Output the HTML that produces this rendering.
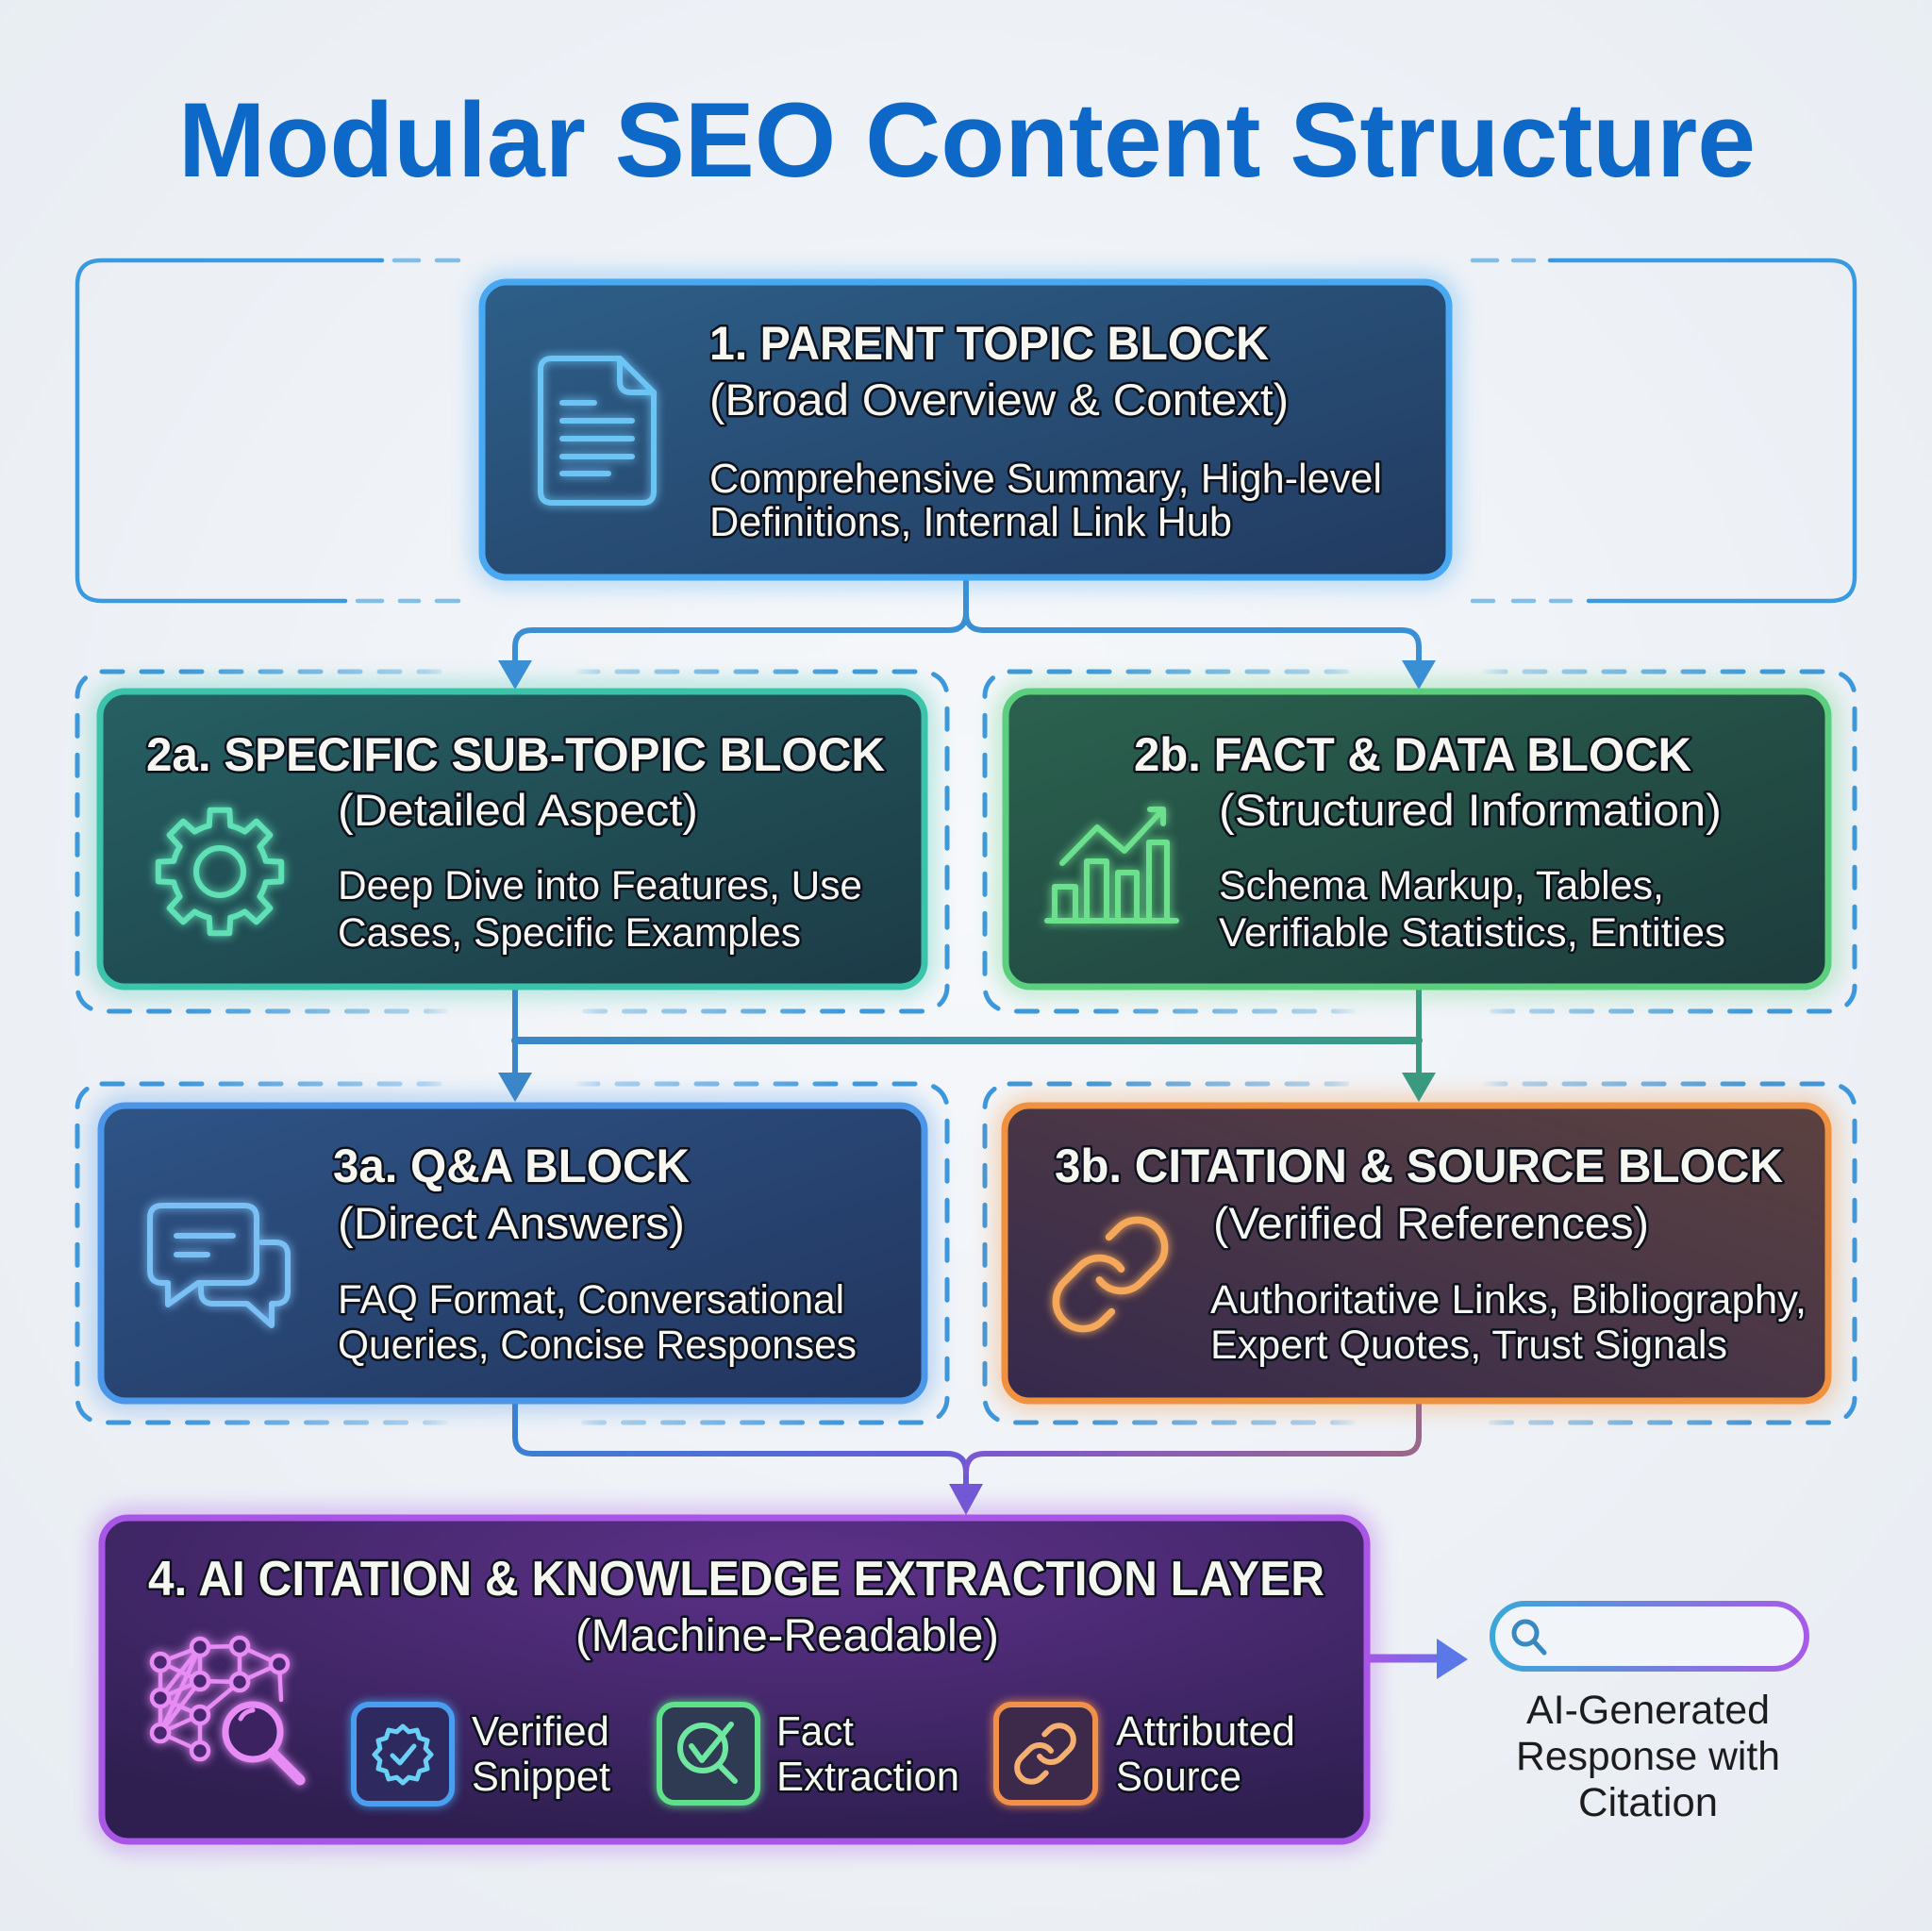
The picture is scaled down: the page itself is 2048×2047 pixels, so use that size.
<!DOCTYPE html>
<html><head><meta charset="utf-8"><style>
html,body{margin:0;padding:0;width:2048px;height:2047px;overflow:hidden;background:#eef2f7;}
svg{display:block;}
.t{font-family:"Liberation Sans",sans-serif;fill:#f7f7f2;stroke:#0c111c;stroke-width:5;paint-order:stroke;stroke-linejoin:round;}
.b{font-weight:bold;}
</style></head><body>
<svg width="2048" height="2047" viewBox="0 0 2048 2047" xmlns="http://www.w3.org/2000/svg">
<defs>
  <radialGradient id="bg" cx="0.5" cy="0.45" r="0.75">
    <stop offset="0" stop-color="#f6f8fb"/><stop offset="1" stop-color="#e7ecf2"/>
  </radialGradient>
  <filter id="blur" x="-30%" y="-30%" width="160%" height="160%"><feGaussianBlur stdDeviation="12"/></filter>
  <filter id="ig" x="-40%" y="-40%" width="180%" height="180%"><feGaussianBlur in="SourceGraphic" stdDeviation="5" result="b"/><feMerge><feMergeNode in="b"/><feMergeNode in="SourceGraphic"/></feMerge></filter>
  <linearGradient id="f1" x1="0" y1="0" x2="1" y2="1"><stop offset="0" stop-color="#2d5f88"/><stop offset="1" stop-color="#223a60"/></linearGradient>
  <linearGradient id="f2a" x1="0" y1="0" x2="1" y2="1"><stop offset="0" stop-color="#266062"/><stop offset="1" stop-color="#1c3b47"/></linearGradient>
  <linearGradient id="f2b" x1="0" y1="0" x2="1" y2="1"><stop offset="0" stop-color="#2b624e"/><stop offset="1" stop-color="#1d3c3d"/></linearGradient>
  <linearGradient id="f3a" x1="0" y1="0" x2="1" y2="1"><stop offset="0" stop-color="#2e5486"/><stop offset="1" stop-color="#22355e"/></linearGradient>
  <linearGradient id="f3b" x1="1" y1="0" x2="0" y2="1"><stop offset="0" stop-color="#5c4240"/><stop offset="1" stop-color="#35294d"/></linearGradient>
  <radialGradient id="f4" cx="0.55" cy="0.15" r="0.85"><stop offset="0" stop-color="#5d3189"/><stop offset="1" stop-color="#2e1f50"/></radialGradient>
  <linearGradient id="mg" gradientUnits="userSpaceOnUse" x1="82" y1="0" x2="1004" y2="0">
    <stop offset="0" stop-color="#fff"/><stop offset="0.12" stop-color="#fff"/><stop offset="0.40" stop-color="#555"/><stop offset="0.43" stop-color="#000"/><stop offset="0.57" stop-color="#000"/><stop offset="0.60" stop-color="#555"/><stop offset="0.88" stop-color="#fff"/><stop offset="1" stop-color="#fff"/>
  </linearGradient>
  <linearGradient id="mg2" gradientUnits="userSpaceOnUse" x1="1044" y1="0" x2="1966" y2="0">
    <stop offset="0" stop-color="#fff"/><stop offset="0.12" stop-color="#fff"/><stop offset="0.40" stop-color="#555"/><stop offset="0.43" stop-color="#000"/><stop offset="0.57" stop-color="#000"/><stop offset="0.60" stop-color="#555"/><stop offset="0.88" stop-color="#fff"/><stop offset="1" stop-color="#fff"/>
  </linearGradient>
  <mask id="mL" maskUnits="userSpaceOnUse" x="0" y="0" width="2048" height="2047"><rect x="60" y="690" width="970" height="840" fill="url(#mg)"/></mask>
  <mask id="mR" maskUnits="userSpaceOnUse" x="0" y="0" width="2048" height="2047"><rect x="1020" y="690" width="970" height="840" fill="url(#mg2)"/></mask>
  <linearGradient id="c2" gradientUnits="userSpaceOnUse" x1="546" y1="0" x2="1504" y2="0"><stop offset="0" stop-color="#3a86c8"/><stop offset="1" stop-color="#3a9a82"/></linearGradient>
  <linearGradient id="c3l" gradientUnits="userSpaceOnUse" x1="546" y1="0" x2="1024" y2="0"><stop offset="0" stop-color="#3b7fd2"/><stop offset="1" stop-color="#6a5ad8"/></linearGradient>
  <linearGradient id="c3r" gradientUnits="userSpaceOnUse" x1="1504" y1="0" x2="1024" y2="0"><stop offset="0" stop-color="#9a6888"/><stop offset="1" stop-color="#7a58d0"/></linearGradient>
  <linearGradient id="ar" gradientUnits="userSpaceOnUse" x1="1450" y1="0" x2="1556" y2="0"><stop offset="0" stop-color="#a655e6"/><stop offset="1" stop-color="#5a78e8"/></linearGradient>
  <linearGradient id="sb" x1="0" y1="0" x2="1" y2="0"><stop offset="0" stop-color="#3aa8d8"/><stop offset="1" stop-color="#a85ae8"/></linearGradient>
</defs>

<rect width="2048" height="2047" fill="url(#bg)"/>

<!-- Title -->
<text x="189" y="187" font-family="Liberation Sans, sans-serif" font-weight="bold" font-size="112" fill="#0e68c8" textLength="1672" lengthAdjust="spacingAndGlyphs">Modular SEO Content Structure</text>

<!-- Bracket 1 -->
<g fill="none" stroke="#3a9ae0" stroke-width="4.5" stroke-linecap="round">
  <path d="M405,276 H108 Q82,276 82,302 V611 Q82,637 108,637 H366"/>
  <path d="M418,276 H444 M463,276 H486 M379,637 H405 M424,637 H444 M463,637 H486" opacity="0.6"/>
  <path d="M1643,276 H1940 Q1966,276 1966,302 V611 Q1966,637 1940,637 H1684"/>
  <path d="M1561,276 H1587 M1604,276 H1626 M1561,637 H1583 M1604,637 H1626 M1644,637 H1665" opacity="0.6"/>
</g>

<!-- Row brackets -->
<g fill="none" stroke="#3d97dc" stroke-width="5" stroke-linecap="round" stroke-dasharray="22 20">
  <rect x="82" y="712" width="922" height="360" rx="26" mask="url(#mL)"/>
  <rect x="1044" y="712" width="922" height="360" rx="26" mask="url(#mR)"/>
  <rect x="82" y="1149" width="922" height="359" rx="26" mask="url(#mL)"/>
  <rect x="1044" y="1149" width="922" height="359" rx="26" mask="url(#mR)"/>
</g>

<!-- Box glows -->
<g fill="none" stroke-width="18" opacity="0.45" filter="url(#blur)">
  <rect x="511" y="299" width="1025" height="313" rx="26" stroke="#48a8f2"/>
  <rect x="106" y="733" width="874" height="313" rx="26" stroke="#3cc4aa"/>
  <rect x="1066" y="733" width="872" height="313" rx="26" stroke="#5ccf7e"/>
  <rect x="107" y="1172" width="873" height="313" rx="26" stroke="#4b96e8"/>
  <rect x="1065" y="1172" width="873" height="313" rx="26" stroke="#f0913f"/>
  <rect x="108" y="1609" width="1341" height="343" rx="28" stroke="#a955e6"/>
</g>

<!-- Connectors -->
<g fill="none" stroke-width="6" stroke-linecap="round">
  <path d="M1024,612 V650 Q1024,668 1006,668 H564 Q546,668 546,686 V705" stroke="#3a8fd4"/>
  <path d="M1024,650 Q1024,668 1042,668 H1486 Q1504,668 1504,686 V705" stroke="#3a8fd4"/>
  <path d="M546,1046 V1140" stroke="#3a86c8"/>
  <path d="M1504,1046 V1140" stroke="#3a9a80"/>
  <path d="M546,1103 H1504" stroke="url(#c2)" stroke-width="8"/>
  <path d="M546,1486 V1523 Q546,1541 564,1541 H1004 Q1024,1541 1024,1561 V1578" stroke="url(#c3l)"/>
  <path d="M1504,1486 V1523 Q1504,1541 1486,1541 H1044 Q1024,1541 1024,1561" stroke="url(#c3r)"/>
  <path d="M1450,1758 H1528" stroke="url(#ar)" stroke-width="9"/>
</g>
<polygon points="528,700 564,700 546,731" fill="#3a8fd4"/>
<polygon points="1486,700 1522,700 1504,731" fill="#3a8fd4"/>
<polygon points="528,1137 564,1137 546,1168" fill="#3a86c8"/>
<polygon points="1486,1137 1522,1137 1504,1168" fill="#3a9a80"/>
<polygon points="1006,1573 1042,1573 1024,1606" fill="#7258d4"/>
<polygon points="1523,1737 1523,1780 1556,1759" fill="#5a78e8"/>

<!-- Boxes -->
<rect x="511" y="299" width="1025" height="313" rx="26" fill="url(#f1)" stroke="#48a8f2" stroke-width="7"/>
<rect x="106" y="733" width="874" height="313" rx="26" fill="url(#f2a)" stroke="#3cc4aa" stroke-width="7"/>
<rect x="1066" y="733" width="872" height="313" rx="26" fill="url(#f2b)" stroke="#5ccf7e" stroke-width="7"/>
<rect x="107" y="1172" width="873" height="313" rx="26" fill="url(#f3a)" stroke="#4b96e8" stroke-width="7"/>
<rect x="1065" y="1172" width="873" height="313" rx="26" fill="url(#f3b)" stroke="#f0913f" stroke-width="7"/>
<rect x="108" y="1609" width="1341" height="343" rx="28" fill="url(#f4)" stroke="#a955e6" stroke-width="7"/>

<!-- Icons -->
<g fill="none" stroke-width="6" stroke-linecap="round" stroke-linejoin="round" filter="url(#ig)">
  <!-- doc -->
  <g stroke="#6cc4f5">
    <path d="M585,380 H657 L693,416 V521 Q693,533 681,533 H585 Q573,533 573,521 V392 Q573,380 585,380 Z"/>
    <path d="M657,380 V404 Q657,416 669,416 H693"/>
    <path d="M596,427 H630 M596,446 H670 M596,465 H670 M596,484 H670 M596,502 H645"/>
  </g>
  <!-- gear -->
  <g stroke="#5fe0b5" transform="translate(233,924)">
    <path d="M48.72,-11.25 L65.19,-10.32 L65.19,10.32 L48.72,11.25 A50,50 0 0 1 42.40,26.50 L53.39,38.79 L38.79,53.39 L26.50,42.40 A50,50 0 0 1 11.25,48.72 L10.32,65.19 L-10.32,65.19 L-11.25,48.72 A50,50 0 0 1 -26.50,42.40 L-38.79,53.39 L-53.39,38.79 L-42.40,26.50 A50,50 0 0 1 -48.72,11.25 L-65.19,10.32 L-65.19,-10.32 L-48.72,-11.25 A50,50 0 0 1 -42.40,-26.50 L-53.39,-38.79 L-38.79,-53.39 L-26.50,-42.40 A50,50 0 0 1 -11.25,-48.72 L-10.32,-65.19 L10.32,-65.19 L11.25,-48.72 A50,50 0 0 1 26.50,-42.40 L38.79,-53.39 L53.39,-38.79 L42.40,-26.50 A50,50 0 0 1 48.72,-11.25 Z"/>
    <circle cx="0" cy="0" r="25"/>
  </g>
  <!-- chart -->
  <g stroke="#6ce08c">
    <path d="M1110,976 H1247"/>
    <path d="M1118,976 V940 H1140 V976 M1152,976 V913 H1173 V976 M1185,976 V925 H1205 V976 M1218,976 V893 H1237 V976"/>
    <path d="M1126,915 L1163,877 L1192,902 L1233,858 M1219,858 H1233 V873"/>
  </g>
  <!-- chat -->
  <g stroke="#7ac0f5">
    <path d="M172,1278 H259 Q272,1278 272,1291 V1347 Q272,1360 259,1360 H210 L178,1383 V1360 H172 Q159,1360 159,1347 V1291 Q159,1278 172,1278 Z"/>
    <path d="M187,1310 H247 M187,1330 H220"/>
    <path d="M277,1317 H292 Q305,1317 305,1330 V1369 Q305,1382 292,1382 H288 V1405 L262,1382 H226 Q213,1382 213,1369 V1364"/>
  </g>
  <!-- link 3b -->
  <g stroke="#f5a85a" transform="translate(1107.4,1281.4) scale(5.8)" stroke-width="1.3">
    <path d="M10 13a5 5 0 0 0 7.54.54l3-3a5 5 0 0 0-7.07-7.07l-1.72 1.71"/>
    <path d="M14 11a5 5 0 0 0-7.54-.54l-3 3a5 5 0 0 0 7.07 7.07l1.71-1.71"/>
  </g>
  <!-- network -->
  <g stroke="#e88cf5" stroke-width="4.5">
    <path d="M170,1762 L212,1746 L254,1745 L296,1764 M170,1762 L212,1782 M212,1746 L170,1800 M212,1746 L212,1782 L254,1783 M254,1745 L254,1783 M296,1764 L254,1783 M296,1764 L298,1802 M170,1800 L212,1782 M170,1800 L212,1818 M212,1782 L170,1837 M170,1837 L212,1818 L212,1856 M170,1837 L212,1856 M170,1762 L170,1837 M254,1783 L212,1818 M212,1746 L170,1837"/>
    <g fill="#4a2870">
      <circle cx="170" cy="1762" r="9"/><circle cx="212" cy="1746" r="9"/><circle cx="254" cy="1745" r="9"/><circle cx="296" cy="1764" r="9"/>
      <circle cx="170" cy="1800" r="9"/><circle cx="212" cy="1782" r="9"/><circle cx="254" cy="1783" r="9"/>
      <circle cx="170" cy="1837" r="9"/><circle cx="212" cy="1818" r="9"/><circle cx="212" cy="1856" r="9"/>
    </g>
    <circle cx="268" cy="1836" r="29" stroke-width="7" fill="#3c2262"/>
    <path d="M255,1822 Q259,1814 268,1813" stroke-width="5"/>
    <path d="M289,1858 L318,1887" stroke-width="11"/>
  </g>
  <!-- small squares -->
  <rect x="375" y="1807" width="104" height="105" rx="16" stroke="#4a9ef0" fill="#2e2a5e"/>
  <rect x="699" y="1807" width="104" height="104" rx="16" stroke="#5ee08a" fill="#2e3a52"/>
  <rect x="1056" y="1807" width="105" height="104" rx="16" stroke="#f0904a" fill="#3e2c4c"/>
  <g stroke="#6ad0f5" stroke-width="5">
    <polygon transform="translate(427,1860)" points="30,0 24.15,6.47 25.98,15 17.68,17.68 15,25.98 6.47,24.15 0,30 -6.47,24.15 -15,25.98 -17.68,17.68 -25.98,15 -24.15,6.47 -30,0 -24.15,-6.47 -25.98,-15 -17.68,-17.68 -15,-25.98 -6.47,-24.15 0,-30 6.47,-24.15 15,-25.98 17.68,-17.68 25.98,-15 24.15,-6.47"/>
    <path d="M416,1861 L424,1869 L439,1851"/>
  </g>
  <g stroke="#6ee8a0" stroke-width="6">
    <circle cx="745" cy="1853" r="24"/>
    <path d="M762,1871 L779,1888"/>
    <path d="M733,1851 L744,1866 L775,1828"/>
  </g>
  <g stroke="#f5b070" transform="translate(1072,1823) scale(3)" stroke-width="2">
    <path d="M10 13a5 5 0 0 0 7.54.54l3-3a5 5 0 0 0-7.07-7.07l-1.72 1.71"/>
    <path d="M14 11a5 5 0 0 0-7.54-.54l-3 3a5 5 0 0 0 7.07 7.07l1.71-1.71"/>
  </g>
</g>

<!-- Search bar -->
<rect x="1582" y="1700" width="333" height="69" rx="34.5" fill="#f1f4f8" stroke="url(#sb)" stroke-width="6"/>
<g fill="none" stroke="#3a88c0" stroke-width="5" stroke-linecap="round">
  <circle cx="1617" cy="1731" r="12"/>
  <path d="M1626,1740 L1637,1752"/>
</g>

<!-- Box 1 text -->
<text class="t b" x="752" y="381" font-size="50" textLength="593" lengthAdjust="spacingAndGlyphs">1. PARENT TOPIC BLOCK</text>
<text class="t" x="752" y="440" font-size="47" textLength="614" lengthAdjust="spacingAndGlyphs">(Broad Overview &amp; Context)</text>
<text class="t" x="752" y="522" font-size="44" textLength="713" lengthAdjust="spacingAndGlyphs">Comprehensive Summary, High-level</text>
<text class="t" x="752" y="568" font-size="44" textLength="554" lengthAdjust="spacingAndGlyphs">Definitions, Internal Link Hub</text>

<!-- Box 2a -->
<text class="t b" x="155" y="817" font-size="50" textLength="783" lengthAdjust="spacingAndGlyphs">2a. SPECIFIC SUB-TOPIC BLOCK</text>
<text class="t" x="358" y="875" font-size="47" textLength="382" lengthAdjust="spacingAndGlyphs">(Detailed Aspect)</text>
<text class="t" x="358" y="953" font-size="43" textLength="556" lengthAdjust="spacingAndGlyphs">Deep Dive into Features, Use</text>
<text class="t" x="358" y="1003" font-size="43" textLength="491" lengthAdjust="spacingAndGlyphs">Cases, Specific Examples</text>

<!-- Box 2b -->
<text class="t b" x="1202" y="817" font-size="50" textLength="591" lengthAdjust="spacingAndGlyphs">2b. FACT &amp; DATA BLOCK</text>
<text class="t" x="1292" y="875" font-size="47" textLength="533" lengthAdjust="spacingAndGlyphs">(Structured Information)</text>
<text class="t" x="1292" y="953" font-size="43" textLength="472" lengthAdjust="spacingAndGlyphs">Schema Markup, Tables,</text>
<text class="t" x="1292" y="1003" font-size="43" textLength="537" lengthAdjust="spacingAndGlyphs">Verifiable Statistics, Entities</text>

<!-- Box 3a -->
<text class="t b" x="353" y="1253" font-size="50" textLength="378" lengthAdjust="spacingAndGlyphs">3a. Q&amp;A BLOCK</text>
<text class="t" x="358" y="1313" font-size="47" textLength="368" lengthAdjust="spacingAndGlyphs">(Direct Answers)</text>
<text class="t" x="358" y="1392" font-size="43" textLength="537" lengthAdjust="spacingAndGlyphs">FAQ Format, Conversational</text>
<text class="t" x="358" y="1440" font-size="43" textLength="550" lengthAdjust="spacingAndGlyphs">Queries, Concise Responses</text>

<!-- Box 3b -->
<text class="t b" x="1118" y="1253" font-size="50" textLength="772" lengthAdjust="spacingAndGlyphs">3b. CITATION &amp; SOURCE BLOCK</text>
<text class="t" x="1286" y="1313" font-size="47" textLength="462" lengthAdjust="spacingAndGlyphs">(Verified References)</text>
<text class="t" x="1283" y="1392" font-size="43" textLength="632" lengthAdjust="spacingAndGlyphs">Authoritative Links, Bibliography,</text>
<text class="t" x="1283" y="1440" font-size="43" textLength="548" lengthAdjust="spacingAndGlyphs">Expert Quotes, Trust Signals</text>

<!-- Box 4 -->
<text class="t b" x="157" y="1691" font-size="52" textLength="1247" lengthAdjust="spacingAndGlyphs">4. AI CITATION &amp; KNOWLEDGE EXTRACTION LAYER</text>
<text class="t" x="610" y="1750" font-size="48" textLength="449" lengthAdjust="spacingAndGlyphs">(Machine-Readable)</text>
<text class="t" x="500" y="1850" font-size="44" textLength="146" lengthAdjust="spacingAndGlyphs">Verified</text>
<text class="t" x="500" y="1898" font-size="44" textLength="147" lengthAdjust="spacingAndGlyphs">Snippet</text>
<text class="t" x="823" y="1850" font-size="44" textLength="82" lengthAdjust="spacingAndGlyphs">Fact</text>
<text class="t" x="823" y="1898" font-size="44" textLength="194" lengthAdjust="spacingAndGlyphs">Extraction</text>
<text class="t" x="1183" y="1850" font-size="44" textLength="190" lengthAdjust="spacingAndGlyphs">Attributed</text>
<text class="t" x="1183" y="1898" font-size="44" textLength="133" lengthAdjust="spacingAndGlyphs">Source</text>

<!-- Side label -->
<g font-family="Liberation Sans, sans-serif" font-size="43" fill="#1c1c1e" text-anchor="middle">
  <text x="1747" y="1827" textLength="258" lengthAdjust="spacingAndGlyphs">AI-Generated</text>
  <text x="1747" y="1876" textLength="280" lengthAdjust="spacingAndGlyphs">Response with</text>
  <text x="1747" y="1925" textLength="148" lengthAdjust="spacingAndGlyphs">Citation</text>
</g>
</svg>
</body></html>
